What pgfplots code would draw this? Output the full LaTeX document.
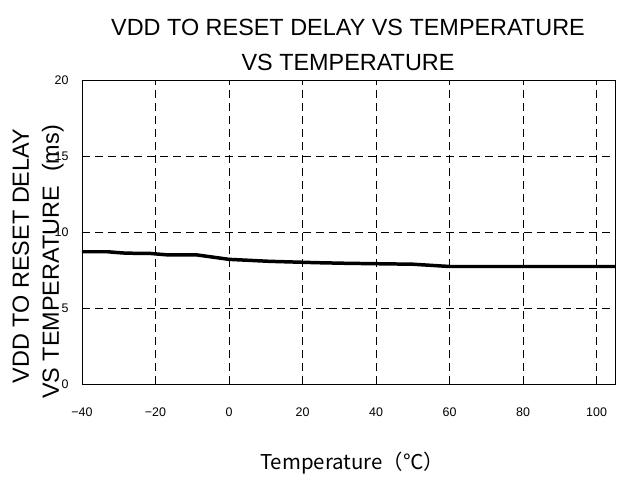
\documentclass[border=0pt]{standalone}
\usepackage{fontspec}
\setmainfont{Liberation Sans}
\newfontfamily\cjk{Noto Sans CJK JP}
\usepackage{pgfplots}
\pgfplotsset{compat=1.18}
\begin{document}
\begin{tikzpicture}[x=1bp,y=1bp]
\path[use as bounding box] (-82,-93) rectangle (542,384);
\begin{axis}[
  at={(0,0)}, anchor=south west,
  scale only axis,
  width=533bp, height=304bp,
  xmin=-40, xmax=105, ymin=0, ymax=20,
  xtick={-40,-20,0,20,40,60,80,100},
  xticklabels={−40,−20,0,20,40,60,80,100},
  ytick={0,5,10,15,20},
  major tick length=0pt,
  grid=major,
  major grid style={black, line width=0.8pt, dash pattern=on 8bp off 5bp},
  axis line style={black, line width=0.9pt},
  tick label style={font=\fontsize{12.5}{13}\selectfont},
  /pgf/number format/assume math mode=true,
  xticklabel style={yshift=-20bp},
  yticklabel style={xshift=-10bp},
  clip=false,
]
\addplot[black, line width=3.5pt] coordinates {
(-40,8.70) (-33,8.70) (-29,8.62) (-26,8.60) (-22,8.60) (-17,8.50) (-9,8.50)
(0,8.20) (11,8.07) (24,7.98) (32,7.94) (50,7.88) (60,7.73) (105,7.73)
};
\end{axis}
\node[anchor=base, font=\fontsize{23.5}{26}\selectfont] at (266,348.5) {VDD TO RESET DELAY VS TEMPERATURE};
\node[anchor=base, font=\fontsize{23.5}{26}\selectfont] at (266,313.5) {VS TEMPERATURE};
\node[anchor=base, rotate=90, font=\fontsize{23.5}{26}\selectfont] at (-53,128) {VDD TO RESET DELAY};
\node[anchor=base, rotate=90, font=\fontsize{23.5}{26}\selectfont] at (-23,122) {VS TEMPERATURE\hspace{0.6em}(ms)};
\node[anchor=base, font=\cjk\fontsize{20.5}{23}\selectfont] at (270,-86) {Temperature（℃）};
\end{tikzpicture}
\end{document}
